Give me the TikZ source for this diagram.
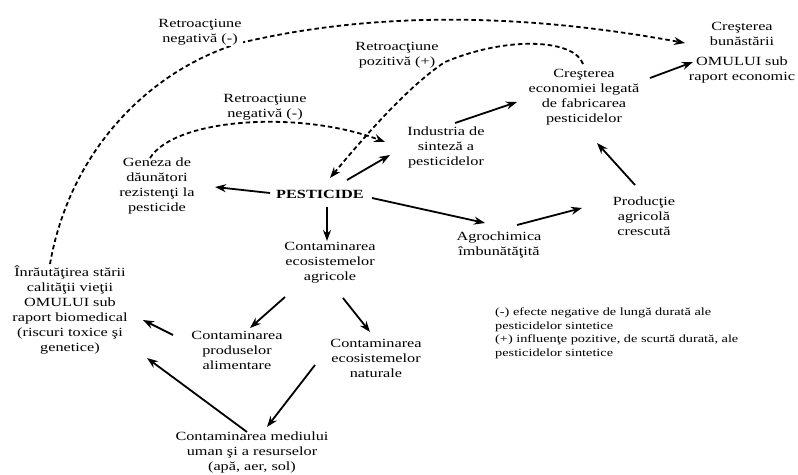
\documentclass[tikz,border=0pt]{standalone}
\usepackage{fontspec}
\setmainfont{Liberation Serif}[FakeStretch=1.3]
\usetikzlibrary{arrows.meta,calc}
\tikzset{
  lbl/.style={font=\fontsize{12.5}{15}\selectfont, align=center, inner sep=1pt},
  arr/.style={-{Stealth[length=11pt,width=8pt]}, line width=1.8pt},
  darr/.style={arr, dash pattern=on 4.5pt off 3pt},
}
\begin{document}
\begin{tikzpicture}[x=1pt,y=-1pt]
\useasboundingbox[fill=white] (0,0) rectangle (798,474);
% nodes
\node[lbl] (bun) at (742,53) {Creşterea\\bunăstării\\[5pt]OMULUI sub\\raport economic};
\node[lbl] (eco) at (584,97) {Creşterea\\economiei legată\\de fabricarea\\pesticidelor};
\node[lbl] (ind) at (446,147) {Industria de\\sinteză a\\pesticidelor};
\node[lbl] (gen) at (157,186) {Geneza de\\dăunători\\rezistenţi la\\pesticide};
\node[lbl, font=\fontsize{12.5}{15}\selectfont\bfseries] (pest) at (320,194) {PESTICIDE};
\node[lbl] (agr) at (330,263) {Contaminarea\\ecosistemelor\\agricole};
\node[lbl] (agro) at (499,245) {Agrochimica\\îmbunătăţită};
\node[lbl] (prod) at (644,216) {Producţie\\agricolă\\crescută};
\node[lbl] (rau) at (70,310) {Înrăutăţirea stării\\calităţii vieţii\\OMULUI sub\\raport biomedical\\(riscuri toxice şi\\genetice)};
\node[lbl] (prd) at (237,350) {Contaminarea\\produselor\\alimentare};
\node[lbl] (nat) at (376,358) {Contaminarea\\ecosistemelor\\naturale};
\node[lbl] (med) at (252,452) {Contaminarea mediului\\uman şi a resurselor\\(apă, aer, sol)};
\node[lbl, font=\fontsize{11}{13.5}\selectfont, align=left, anchor=north west] (leg) at (494,307)
  {(-) efecte negative de lungă durată ale\\pesticidelor sintetice\\(+) influenţe pozitive, de scurtă durată, ale\\pesticidelor sintetice};
% solid arrows
\draw[arr] ($(pest)+(-50,-1)$) -- ($(gen)+(58,1)$);
\draw[arr] ($(pest)+(27,-14)$) -- ($(ind)+(-56,8)$);
\draw[arr] ($(pest)+(52,4)$) -- ($(agro)+(-14,-22)$);
\draw[arr] ($(pest)+(7,13)$) -- ($(agr)+(-3,-22)$);
\draw[arr] ($(agro)+(18,-20)$) -- ($(prod)+(-62,-8)$);
\draw[arr] ($(prod)+(-9,-31)$) -- ($(eco)+(13,46)$);
\draw[arr] ($(ind)+(9,-24)$) -- ($(eco)+(-67,5)$);
\draw[arr] ($(eco)+(66,-19)$) -- ($(bun)+(-49,9)$);
\draw[arr] ($(agr)+(-45,34)$) -- ($(prd)+(13,-22)$);
\draw[arr] ($(agr)+(13,35)$) -- ($(nat)+(-6,-26)$);
\draw[arr] ($(prd)+(-64,-15)$) -- ($(rau)+(73,10)$);
\draw[arr] ($(nat)+(-61,7)$) -- ($(med)+(15,-25)$);
\draw[arr] ($(med)+(-5,-20)$) -- ($(rau)+(77,48)$);
% dashed feedback arrows
\draw[darr] ($(gen)+(-7,-28)$) .. controls (175,118) and (300,110) .. ($(ind)+(-61,-5)$);
\draw[darr] ($(eco)+(-1,-33)$) .. controls (575,40) and (510,35) .. (445,62)
   .. controls (410,85) and (370,130) .. ($(pest)+(10,-16)$);
\draw[darr] ($(rau)+(-20,-46)$) .. controls (70,150) and (150,70) .. (240,43)
   .. controls (400,5) and (560,20) .. ($(bun)+(-57,-10)$);
% feedback labels
\node[lbl, fill=white] (r1) at (200,32) {Retroacţiune\\negativă (-)};
\node[lbl] (r2) at (397,55) {Retroacţiune\\pozitivă (+)};
\node[lbl] (r3) at (265,107) {Retroacţiune\\negativă (-)};
\end{tikzpicture}
\end{document}
